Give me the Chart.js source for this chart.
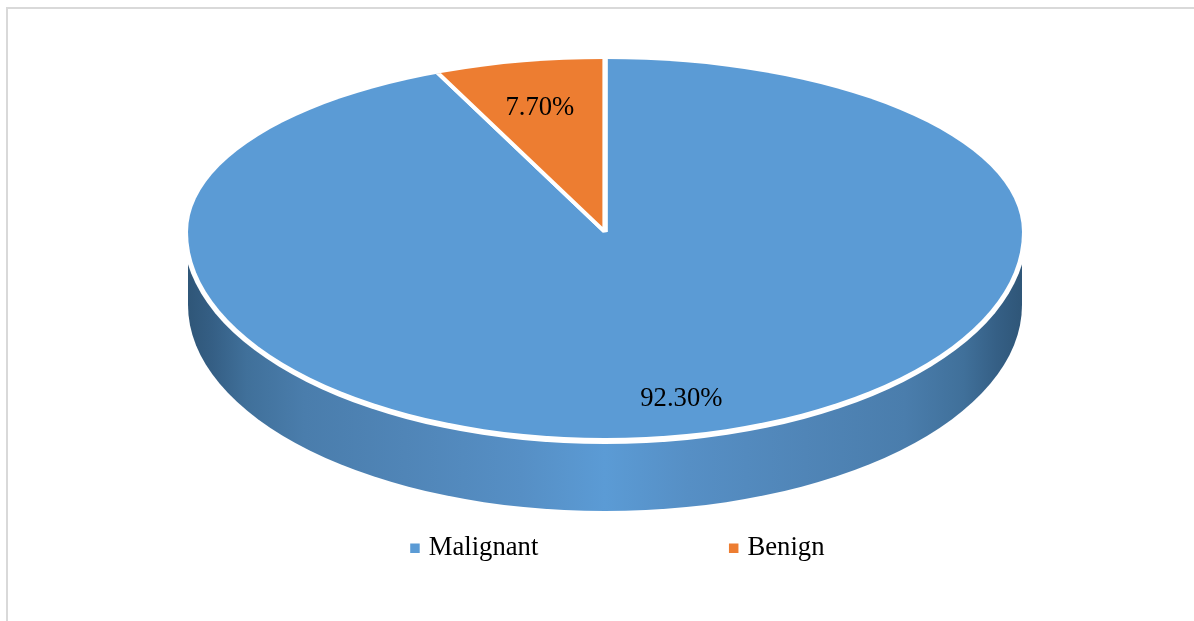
<!DOCTYPE html>
<html>
<head>
<meta charset="utf-8">
<title>Malignant vs Benign</title>
<script src="https://cdn.jsdelivr.net/npm/chart.js@4"></script>
<style>
    html, body { margin: 0; padding: 0; background: #fff; overflow: hidden; }
    #contenedor { position: relative; width: 1194px; height: 621px; }
    #marco { position: absolute; left: 6px; top: 7px; right: 0; bottom: 0; border-left: 2px solid #d9d9d9; border-top: 2px solid #d9d9d9; }
    canvas { position: absolute; left: 0; top: 0; }
</style>
</head>
<body>
<div id="contenedor">
    <div id="marco"></div>
    <canvas id="grafica" width="1194" height="621"></canvas>
</div>
<script>
const categorias = ['Malignant', 'Benign'];
const valores = [92.3, 7.7];
const etiquetas = ['92.30%', '7.70%'];
const colores = ['#5b9bd5', '#ed7d31'];
// how far out along the slice each value label sits
const posicionEtiquetaX = [0.75, 0.64];
const posicionEtiquetaY = [0.81, 0.6];

const FUENTE = '"Liberation Serif", "Times New Roman", serif';

// tilted top face: wider radius than the visible ellipse, clipped afterwards
const RADIO_X = 417;
const ATRAS_Y = 173;
const FRENTE_Y = 206;
const ESCALA_X = 425;
const ESCALA_Y = 212.5;
const BORDE_PX = 5.2;
const PROFUNDIDAD = 73;

function dibujarPared(ctx, x, y) {
    const grad = ctx.createLinearGradient(x - RADIO_X, 0, x + RADIO_X, 0);
    grad.addColorStop(0, '#2f5678');
    grad.addColorStop(0.03, '#355f85');
    grad.addColorStop(0.07, '#40709a');
    grad.addColorStop(0.14, '#4a7dac');
    grad.addColorStop(0.26, '#5085b7');
    grad.addColorStop(0.4, '#568fc5');
    grad.addColorStop(0.5, '#5b9bd5');
    grad.addColorStop(0.6, '#568fc5');
    grad.addColorStop(0.74, '#5085b7');
    grad.addColorStop(0.86, '#4a7dac');
    grad.addColorStop(0.93, '#40709a');
    grad.addColorStop(0.97, '#355f85');
    grad.addColorStop(1, '#2f5678');

    ctx.beginPath();
    ctx.moveTo(x - RADIO_X, y);
    ctx.lineTo(x - RADIO_X, y + PROFUNDIDAD);
    ctx.ellipse(x, y + PROFUNDIDAD, RADIO_X, FRENTE_Y, 0, Math.PI, 0, true);
    ctx.lineTo(x + RADIO_X, y);
    ctx.closePath();
    ctx.fillStyle = grad;
    ctx.fill();

    // white gap between the face and the wall
    ctx.beginPath();
    ctx.ellipse(x, y, RADIO_X + 5, FRENTE_Y + 6, 0, 0, Math.PI);
    ctx.closePath();
    ctx.fillStyle = '#fff';
    ctx.fill();
}

const pastel3d = {
    id: 'pastel3d',
    afterLayout(chart) {
        // legend items sit far apart, so it is capped in height and placed by hand
        const legend = chart.legend;
        const padding = legend.options.labels.padding;
        legend.top = 535 - padding;
        legend.height = padding + 40;
        legend.bottom = legend.top + legend.height;
        legend.left += 14.5;
        legend.right += 14.5;
    },
    beforeDatasetsDraw(chart) {
        const ctx = chart.ctx;
        const arco = chart.getDatasetMeta(0).data[0];
        const { x, y, outerRadius } = arco;

        dibujarPared(ctx, x, y);

        ctx.save();
        ctx.beginPath();
        ctx.ellipse(x, y, RADIO_X, ATRAS_Y, 0, Math.PI, 0);
        ctx.ellipse(x, y, RADIO_X, FRENTE_Y, 0, 0, Math.PI);
        ctx.closePath();
        ctx.clip();
        ctx.translate(x, y);
        ctx.scale(ESCALA_X / outerRadius, ESCALA_Y / outerRadius);
        ctx.translate(-x, -y);
    },
    afterDatasetsDraw(chart) {
        const ctx = chart.ctx;
        ctx.restore();

        const meta = chart.getDatasetMeta(0);
        ctx.save();
        ctx.font = `26.67px ${FUENTE}`;
        ctx.fillStyle = '#000';
        ctx.textAlign = 'center';
        ctx.textBaseline = 'middle';
        meta.data.forEach((arco, i) => {
            const medio = (arco.startAngle + arco.endAngle) / 2;
            const px = arco.x + Math.cos(medio) * ESCALA_X * posicionEtiquetaX[i];
            const py = arco.y + Math.sin(medio) * ESCALA_Y * posicionEtiquetaY[i];
            ctx.fillText(etiquetas[i], px, py);
        });
        ctx.restore();
    }
};

new Chart(document.getElementById('grafica'), {
    type: 'pie',
    data: {
        labels: categorias,
        datasets: [{
            data: valores,
            backgroundColor: colores,
            borderColor: '#fff',
            borderWidth: BORDE_PX / 1.85,
            clip: false
        }]
    },
    options: {
        responsive: false,
        animation: false,
        layout: { padding: { left: 16, top: 0, bottom: 127, right: 0 } },
        plugins: {
            tooltip: { enabled: false },
            legend: {
                position: 'bottom',
                maxHeight: 30,
                labels: {
                    font: { family: FUENTE, size: 26.67 },
                    color: '#000',
                    boxWidth: 0.84,
                    boxHeight: 0.84,
                    padding: 195,
                    generateLabels: () => categorias.map((texto, i) => ({
                        text: texto,
                        fillStyle: colores[i],
                        strokeStyle: colores[i],
                        lineWidth: 8.66,
                        hidden: false,
                        index: i
                    }))
                }
            }
        }
    },
    plugins: [pastel3d]
});
</script>
</body>
</html>
